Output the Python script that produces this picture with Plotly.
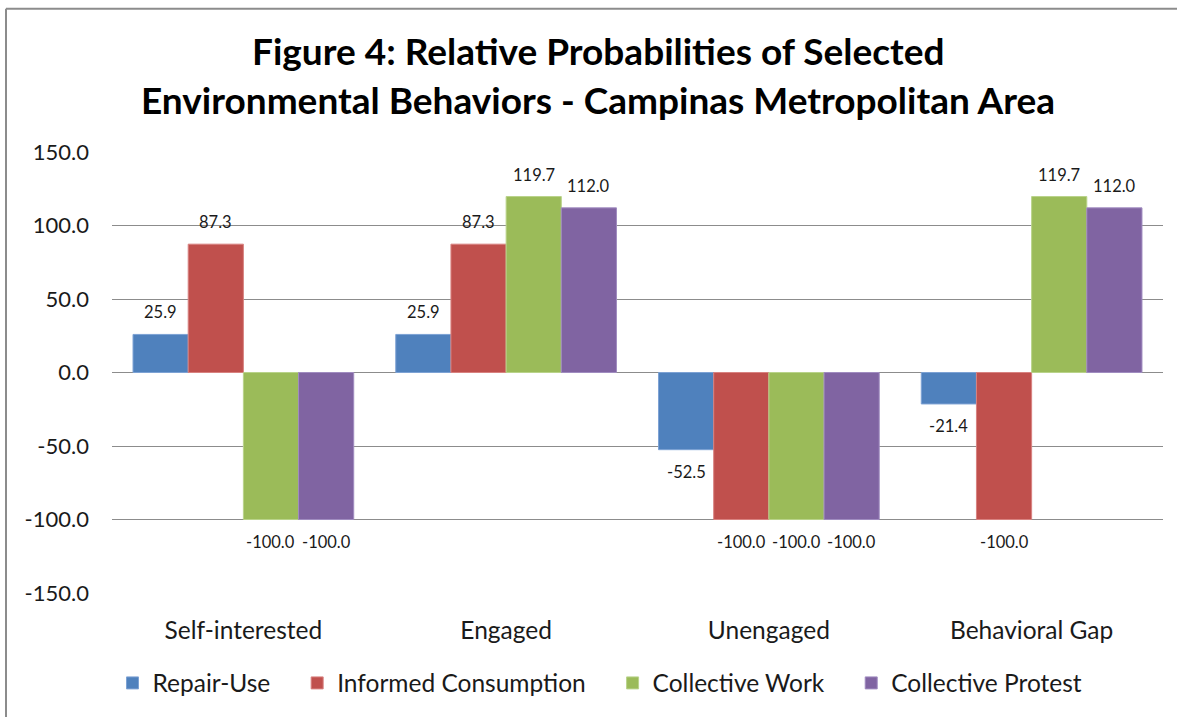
import plotly.graph_objects as go

# ---- data ----
categories = ["Self-interested", "Engaged", "Unengaged", "Behavioral Gap"]
series_names = ["Repair-Use", "Informed Consumption", "Collective Work", "Collective Protest"]
repair_use = [25.9, 25.9, -52.5, -21.4]
informed_consumption = [87.3, 87.3, -100.0, -100.0]
collective_work = [-100.0, 119.7, -100.0, 119.7]
collective_protest = [-100.0, 112.0, -100.0, 112.0]
y_ticks = [150, 100, 50, 0, -50, -100, -150]

series_values = [repair_use, informed_consumption, collective_work, collective_protest]
colors = ["#4F81BD", "#C0504D", "#9BBB59", "#8064A2"]
line_colors = ["#7DA2D4", "#D88280", "#B9D38A", "#A08CC0"]

# ---- layout geometry (pixels) ----
W, H = 1177, 717
ML, MR, MT, MB = 112, 14, 152, 119
PW = W - ML - MR
PH = H - MT - MB
BARGAP = 0.16
FONT = "Lato, 'Open Sans', Arial, sans-serif"
LEGEND_PAD = "\u00a0\u00a0\u00a0\u2009"


def px_to_paper_x(px):
    return (px - ML) / PW


def px_to_paper_y(py):
    return (H - MB - py) / PH


fig = go.Figure()
for k, (name, vals, c, lc) in enumerate(zip(series_names, series_values, colors, line_colors)):
    shown = name + (LEGEND_PAD if k < len(series_names) - 1 else "")
    fig.add_trace(go.Bar(
        x=categories, y=vals, name=shown,
        marker=dict(color=c, line=dict(color=lc, width=1)),
        hovertemplate=f"{name}<br>%{{x}}: %{{y:.1f}}<extra></extra>",
    ))

# data labels (Excel "outside end" style)
cat_px = PW / len(categories)
bar_px = cat_px * (1 - BARGAP) / len(series_names)
annotations = []
for i, (name, vals) in enumerate(zip(series_names, series_values)):
    for cat, v in zip(categories, vals):
        annotations.append(dict(
            x=cat, y=v, xref="x", yref="y",
            text=f"{v:.1f}", showarrow=False,
            xshift=(i - (len(series_names) - 1) / 2) * bar_px,
            yshift=22 if v >= 0 else -22,
            font=dict(family=FONT, size=16.5, color="#1a1a1a"),
        ))

# title as two centred lines
title_lines = ["Figure 4: Relative Probabilities of Selected",
               "Environmental Behaviors - Campinas Metropolitan Area"]
for line, ypx in zip(title_lines, [49, 99]):
    annotations.append(dict(
        x=px_to_paper_x(598), y=px_to_paper_y(ypx), xref="paper", yref="paper",
        text=f"<b>{line}</b>", showarrow=False, xanchor="center", yanchor="middle",
        font=dict(family=FONT, size=37, color="#000000"),
    ))

fig.update_layout(
    width=W, height=H,
    margin=dict(l=ML, r=MR, t=MT, b=MB, pad=0),
    paper_bgcolor="white", plot_bgcolor="white",
    barmode="group", bargap=BARGAP, bargroupgap=0,
    font=dict(family=FONT, color="#1a1a1a"),
    showlegend=True,
    legend=dict(
        orientation="h", x=px_to_paper_x(600), y=px_to_paper_y(689),
        xanchor="center", yanchor="middle",
        font=dict(family=FONT, size=24.5, color="#1a1a1a"),
        itemwidth=30, tracegroupgap=0,
    ),
    annotations=annotations,
    shapes=[
        dict(type="line", xref="paper", yref="paper",
             x0=px_to_paper_x(6), x1=px_to_paper_x(W + 10),
             y0=px_to_paper_y(7), y1=px_to_paper_y(7),
             line=dict(color="#8C8C8C", width=2), layer="below"),
        dict(type="line", xref="paper", yref="paper",
             x0=px_to_paper_x(6), x1=px_to_paper_x(6),
             y0=px_to_paper_y(7), y1=px_to_paper_y(H + 10),
             line=dict(color="#8C8C8C", width=2), layer="below"),
    ],
)

fig.update_yaxes(
    range=[-150, 150], tickvals=y_ticks,
    ticktext=[f"{t:.1f}" for t in y_ticks],
    showgrid=True, gridcolor="#8C8C8C", gridwidth=1,
    zeroline=True, zerolinecolor="#8C8C8C", zerolinewidth=1,
    showline=False, ticks="", ticklabelstandoff=22,
    tickfont=dict(family=FONT, size=22, color="#1a1a1a"),
)
fig.update_xaxes(
    showgrid=False, showline=False, ticks="", ticklabelstandoff=20,
    tickfont=dict(family=FONT, size=24.5, color="#1a1a1a"),
)

fig.write_html(
    "out.html",
    config={"displayModeBar": False},
    post_script="document.body.style.margin='0';document.body.style.overflow='hidden';",
)
